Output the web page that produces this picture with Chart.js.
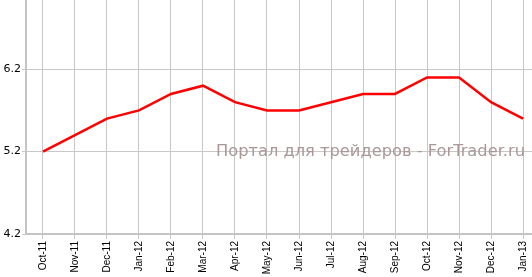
<!DOCTYPE html>
<html>
<head>
<meta charset="utf-8">
<script src="https://cdn.jsdelivr.net/npm/chart.js@4"></script>
<style>
  html, body { margin: 0; padding: 0; background: #fff; }
  #wrap { width: 532px; height: 277px; }
</style>
</head>
<body>
<div id="wrap"><canvas id="chart"></canvas></div>
<script>
const months = ["Oct-11", "Nov-11", "Dec-11", "Jan-12", "Feb-12", "Mar-12", "Apr-12", "May-12",
  "Jun-12", "Jul-12", "Aug-12", "Sep-12", "Oct-12", "Nov-12", "Dec-12", "Jan-13"];
const values = [5.2, 5.4, 5.6, 5.7, 5.9, 6.0, 5.8, 5.7, 5.7, 5.8, 5.9, 5.9, 6.1, 6.1, 5.8, 5.6];
const yTicks = [4.2, 5.2, 6.2];
const watermark = "Портал для трейдеров - ForTrader.ru";

const gridColor = "#c8c8c8";

function noPad(scale) {
  scale.paddingTop = 0;
  scale.paddingBottom = 0;
  scale.paddingLeft = 0;
  scale.paddingRight = 0;
}

// watermark text in the middle of the plot
const watermarkPlugin = {
  id: "watermark",
  beforeDatasetsDraw(chart) {
    const ctx = chart.ctx;
    const y = chart.scales.y.getPixelForValue(5.2);
    ctx.save();
    ctx.font = "16px 'DejaVu Sans'";
    ctx.fillStyle = "#aa9797";
    ctx.textBaseline = "middle";
    const w = ctx.measureText(watermark).width;
    const target = 309;
    ctx.translate(216, y);
    ctx.scale(target / w, 1);
    ctx.fillText(watermark, 0, 0);
    ctx.restore();
  }
};

new Chart(document.getElementById("chart"), {
  type: "line",
  data: {
    datasets: [{
      data: values.map((v, i) => ({ x: i, y: v })),
      borderColor: "#ff0000",
      borderWidth: 2.5,
      pointRadius: 0,
      tension: 0,
      fill: false
    }]
  },
  options: {
    responsive: true,
    maintainAspectRatio: false,
    animation: false,
    layout: { padding: 0 },
    plugins: { legend: { display: false }, tooltip: { enabled: false } },
    scales: {
      x: {
        type: "linear",
        min: -0.53,
        max: 15.28,
        afterBuildTicks: (scale) => { scale.ticks = months.map((m, i) => ({ value: i })); },
        afterFit: (scale) => { scale.height = 43; noPad(scale); },
        grid: { color: gridColor, lineWidth: 1, tickLength: 5, drawOnChartArea: true },
        border: { color: "#c4c4c4", width: 2 },
        ticks: {
          autoSkip: false,
          maxRotation: 90,
          minRotation: 90,
          padding: 2,
          color: "#000",
          font: { family: "'Liberation Sans', Arial", size: 10 },
          callback: (v) => months[v]
        }
      },
      y: {
        min: 4.2,
        max: 7.04,
        afterBuildTicks: (scale) => { scale.ticks = yTicks.map(v => ({ value: v })); },
        afterFit: (scale) => { scale.width = 26; noPad(scale); },
        grid: { color: gridColor, lineWidth: 1, tickLength: 4 },
        border: { color: "#c4c4c4", width: 2 },
        ticks: {
          padding: 1,
          color: "#000",
          font: { family: "'DejaVu Sans'", size: 11 },
          callback: (v) => v.toFixed(1)
        }
      }
    }
  },
  plugins: [watermarkPlugin]
});
</script>
</body>
</html>
